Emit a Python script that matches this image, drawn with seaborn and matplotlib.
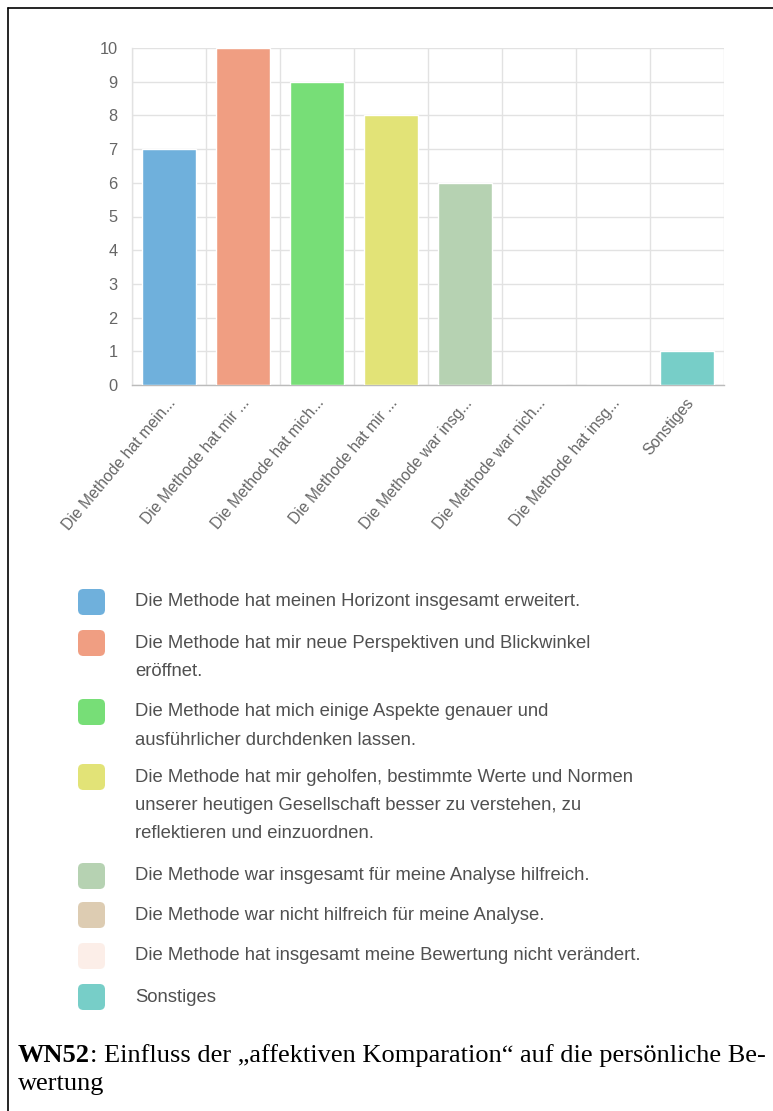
import matplotlib
matplotlib.use("Agg")
import matplotlib.pyplot as plt
import matplotlib.transforms as mtransforms
from matplotlib.patches import FancyBboxPatch
from matplotlib.lines import Line2D
import seaborn as sns
import pandas as pd

# ---------------- data ----------------
categories = [
    "Die Methode hat meinen Horizont insgesamt erweitert.",
    "Die Methode hat mir neue Perspektiven und Blickwinkel eröffnet.",
    "Die Methode hat mich einige Aspekte genauer und ausführlicher durchdenken lassen.",
    "Die Methode hat mir geholfen, bestimmte Werte und Normen unserer heutigen Gesellschaft besser zu verstehen, zu reflektieren und einzuordnen.",
    "Die Methode war insgesamt für meine Analyse hilfreich.",
    "Die Methode war nicht hilfreich für meine Analyse.",
    "Die Methode hat insgesamt meine Bewertung nicht verändert.",
    "Sonstiges",
]
tick_labels = [
    "Die Methode hat mein...",
    "Die Methode hat mir ...",
    "Die Methode hat mich...",
    "Die Methode hat mir ...",
    "Die Methode war insg...",
    "Die Methode war nich...",
    "Die Methode hat insg...",
    "Sonstiges",
]
values = [7, 10, 9, 8, 6, 0, 0, 1]
legend_lines = [
    ["Die Methode hat meinen Horizont insgesamt erweitert."],
    ["Die Methode hat mir neue Perspektiven und Blickwinkel", "eröffnet."],
    ["Die Methode hat mich einige Aspekte genauer und", "ausführlicher durchdenken lassen."],
    ["Die Methode hat mir geholfen, bestimmte Werte und Normen",
     "unserer heutigen Gesellschaft besser zu verstehen, zu",
     "reflektieren und einzuordnen."],
    ["Die Methode war insgesamt für meine Analyse hilfreich."],
    ["Die Methode war nicht hilfreich für meine Analyse."],
    ["Die Methode hat insgesamt meine Bewertung nicht verändert."],
    ["Sonstiges"],
]
colors = ["#6FB0DC", "#F09E82", "#77DE77", "#E2E377", "#B6D2B2",
          "#DDCCB2", "#FCEEE8", "#77CEC8"]
y_ticks = list(range(0, 11))
caption_bold = "WN52"
caption_rest = ": Einfluss der „affektiven Komparation“ auf die persönliche Be-"
caption_line2 = "wertung"

# ---------------- figure ----------------
sns.set_theme(style="white")
plt.rcParams["font.family"] = ["Liberation Sans", "DejaVu Sans"]

W, H = 773, 1111
fig = plt.figure(figsize=(W / 100, H / 100), dpi=100)

def fx(px):
    return px / W

def fy(py):
    return 1 - py / H

ax_left, ax_right, ax_top, ax_bottom = 132, 724, 48, 385
ax = fig.add_axes([fx(ax_left), fy(ax_bottom), fx(ax_right - ax_left), (ax_bottom - ax_top) / H])

df = pd.DataFrame({"cat": categories, "val": values})
sns.barplot(data=df, x="cat", y="val", hue="cat", palette=colors, order=categories,
            hue_order=categories, legend=False, width=0.72, saturation=1, ax=ax, zorder=3)

ax.set_ylim(0, 10)
ax.set_xlim(-0.5, len(categories) - 0.5)
ax.set_yticks(y_ticks)
ax.set_yticklabels([str(t) for t in y_ticks], fontsize=11.8, color="#666666")
ax.set_xticks(range(len(categories)))
ax.set_xticklabels(tick_labels, rotation=50, ha="right", va="center",
                   rotation_mode="anchor", fontsize=11.3, color="#666666")
ax.set_xticks([i - 0.5 for i in range(len(categories) + 1)], minor=True)
ax.set_xlabel("")
ax.set_ylabel("")

grid_c = "#E2E2E2"
ax.grid(False)
ax.yaxis.grid(True, color=grid_c, linewidth=1.0, zorder=0)
ax.xaxis.grid(True, which="minor", color=grid_c, linewidth=1.0, zorder=0)
ax.tick_params(axis="x", which="major", length=0, pad=11)
ax.tick_params(axis="x", which="minor", length=9.4, color=grid_c, width=1.0)
ax.tick_params(axis="y", which="major", length=8, color=grid_c, width=1.0, pad=2.5)

for s in ["top", "right"]:
    ax.spines[s].set_visible(False)
ax.spines["left"].set_color(grid_c)
ax.spines["bottom"].set_color("#BBBBBB")
ax.spines["left"].set_linewidth(1.0)
ax.spines["bottom"].set_linewidth(1.0)

# shift rotated labels slightly right
offset = mtransforms.ScaledTranslation(4 / 100, 0, fig.dpi_scale_trans)
for lab in ax.get_xticklabels():
    lab.set_transform(lab.get_transform() + offset)

# ---------------- legend ----------------
item_centers = [602, 643, 712, 777, 876, 915, 956, 997]
line_h = 28.5
for i, (lines, c) in enumerate(zip(legend_lines, colors)):
    yc = item_centers[i]
    sw = FancyBboxPatch((fx(78), fy(yc + 13)), fx(27), 26 / H,
                        boxstyle="round,pad=0,rounding_size=0.007",
                        transform=fig.transFigure, facecolor=c, edgecolor="none",
                        mutation_aspect=W / H)
    fig.patches.append(sw)
    for j, line in enumerate(lines):
        fig.text(fx(135), fy(yc + j * line_h), line, fontsize=13.3, color="#505050",
                 ha="left", va="center")

# ---------------- caption ----------------
serif = ["Liberation Serif", "DejaVu Serif"]
cap_size = 19
t1 = fig.text(fx(18), fy(1056), caption_bold, fontsize=cap_size, fontweight="bold",
              family=serif, color="black", ha="left", va="center")
fig.canvas.draw()
bb = t1.get_window_extent()
fig.text(bb.x1 / W, fy(1056), caption_rest, fontsize=cap_size, family=serif,
         color="black", ha="left", va="center")
fig.text(fx(18), fy(1084), caption_line2, fontsize=cap_size, family=serif,
         color="black", ha="left", va="center")

# ---------------- frame ----------------
fig.add_artist(Line2D([fx(8), 1], [fy(8), fy(8)], transform=fig.transFigure,
                      color="black", linewidth=1.2))
fig.add_artist(Line2D([fx(8), fx(8)], [fy(8), 0], transform=fig.transFigure,
                      color="black", linewidth=1.2))

fig.savefig("out.png", dpi=100)
